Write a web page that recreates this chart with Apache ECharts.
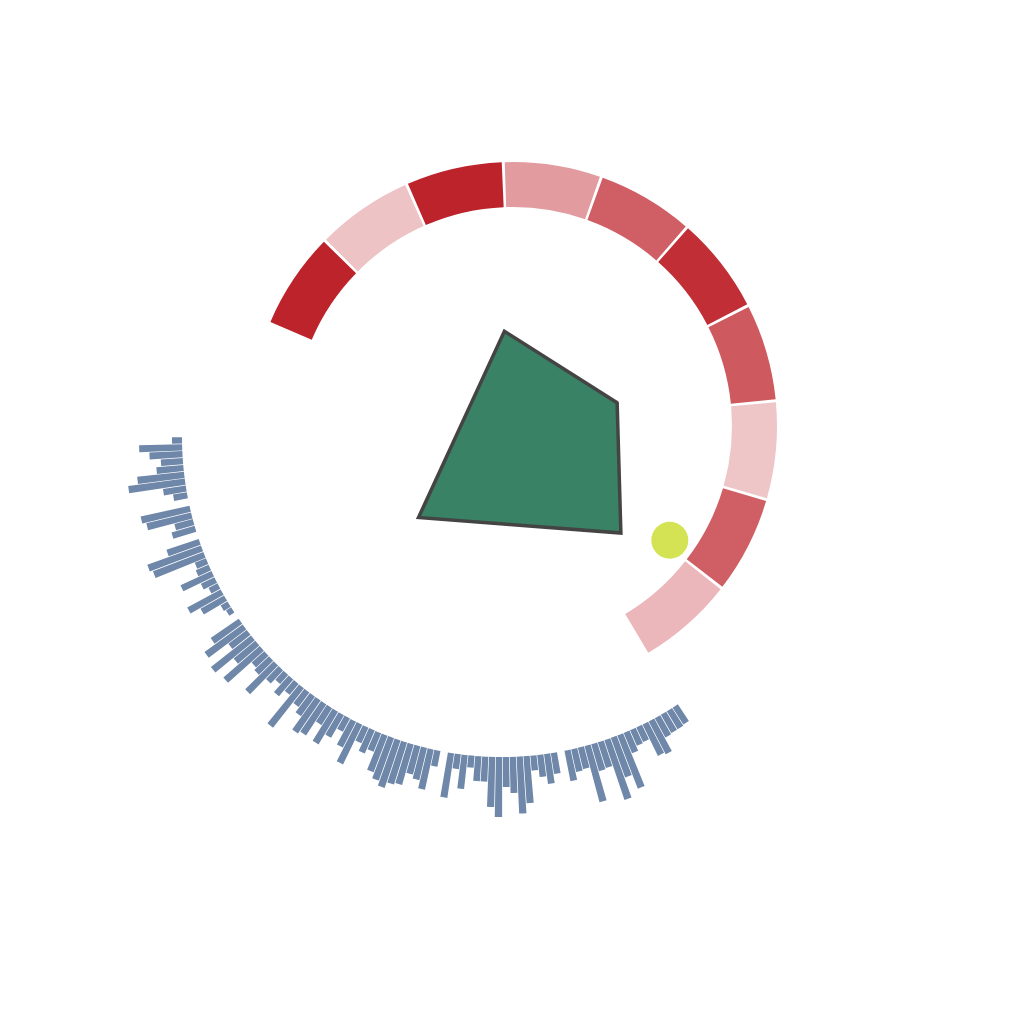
<!DOCTYPE html>
<html>
<head>
<meta charset="utf-8">
<script src="https://cdn.jsdelivr.net/npm/echarts@6/dist/echarts.min.js"></script>
<style>
  html, body { margin: 0; padding: 0; background: #fff; }
  #main { width: 1024px; height: 1024px; }
</style>
</head>
<body>
<div id="main"></div>
<script>
// outer ring of blue bars, left (180deg) round the bottom to the lower right
var barValues = [
  10, 43, 33, 22, 27, 47, 57, 23, 14, 0,
  50, 46, 19, 24, 0, 34, 57, 54, 12, 14,
  34, 15, 10, 38, 27, 8, 6, 0, 34, 47,
  23, 51, 28, 48, 17, 20, 40, 18, 12, 22,
  14, 50, 18, 24, 40, 37, 20, 38, 26, 15,
  29, 44, 17, 25, 20, 39, 45, 50, 44, 42,
  29, 33, 41, 16, 0, 45, 15, 34, 12, 25,
  25, 50, 60, 30, 36, 57, 47, 15, 22, 30,
  21, 0, 31, 23, 22, 58, 28, 27, 63, 42,
  57, 22, 17, 16, 35, 37, 22, 21, 21, 20
];
var barCats = barValues.map(function (v, i) { return 'b' + i; });

// red ring segments, clockwise from upper left
var ringCats = ['r1', 'r2', 'r3', 'r4', 'r5', 'r6', 'r7', 'r8', 'r9', 'r10'];
var ringLevels = [100, 2, 100, 26, 63, 93, 66, 0, 63, 9];

// radar polygon, indicators counter-clockwise from the right-hand one
var radarNames = ['B', 'A', 'D', 'C'];
var radarValues = [34, 65, 92, 63];

// single scatter point [radius, angle]
var scatterData = [[197, 328.4]];

var chart = echarts.init(document.getElementById('main'));

var hidden = {
  show: false,
  axisLine: { show: false },
  axisTick: { show: false },
  axisLabel: { show: false },
  splitLine: { show: false }
};

var radarLine = { color: '#444444', width: 7, join: 'miter', cap: 'round' };

var option = {
  backgroundColor: '#fff',
  animation: false,
  polar: [
    { center: [502, 437], radius: [320, 400] },
    { center: [513, 426], radius: [219, 264] },
    { center: [502, 437], radius: [0, 300] }
  ],
  angleAxis: [
    Object.assign({ polarIndex: 0, type: 'category', data: barCats,
      startAngle: 180, endAngle: 303.4, clockwise: false }, hidden),
    Object.assign({ polarIndex: 1, type: 'category', data: ringCats,
      startAngle: 157.1, endAngle: -59.5 }, hidden),
    Object.assign({ polarIndex: 2, type: 'value', min: 0, max: 360,
      startAngle: 0, clockwise: false }, hidden)
  ],
  radiusAxis: [
    Object.assign({ polarIndex: 0, type: 'value', min: 0, max: 80 }, hidden),
    Object.assign({ polarIndex: 1, type: 'value', min: 0, max: 1 }, hidden),
    Object.assign({ polarIndex: 2, type: 'value', min: 0, max: 300 }, hidden)
  ],
  radar: {
    center: [563, 434],
    radius: 178,
    startAngle: 30,
    indicator: radarNames.map(function (n) { return { name: n, max: 100 }; }),
    axisName: { show: false },
    axisLine: { show: false },
    splitLine: { show: false },
    splitArea: { show: false }
  },
  visualMap: {
    type: 'continuous',
    show: false,
    seriesIndex: 1,
    dimension: 2,
    min: 0,
    max: 100,
    inRange: { color: ['#efc6c8', '#bd232b'] }
  },
  series: [
    {
      type: 'bar',
      coordinateSystem: 'polar',
      polarIndex: 0,
      data: barValues,
      barCategoryGap: '10%',
      itemStyle: { color: '#6f87a9' }
    },
    {
      type: 'bar',
      coordinateSystem: 'polar',
      polarIndex: 1,
      data: ringLevels.map(function (lv, i) { return [1, i, lv]; }),
      barCategoryGap: '3%'
    },
    {
      type: 'scatter',
      coordinateSystem: 'polar',
      polarIndex: 2,
      data: scatterData,
      symbolSize: 37,
      itemStyle: { color: '#d4e353', opacity: 1 }
    },
    {
      type: 'radar',
      symbol: 'none',
      lineStyle: radarLine,
      areaStyle: { color: '#3a8265', opacity: 1 },
      data: [{
        value: radarValues,
        lineStyle: radarLine,
        areaStyle: { color: '#3a8265', opacity: 1 }
      }]
    }
  ]
};

chart.setOption(option);
</script>
</body>
</html>
